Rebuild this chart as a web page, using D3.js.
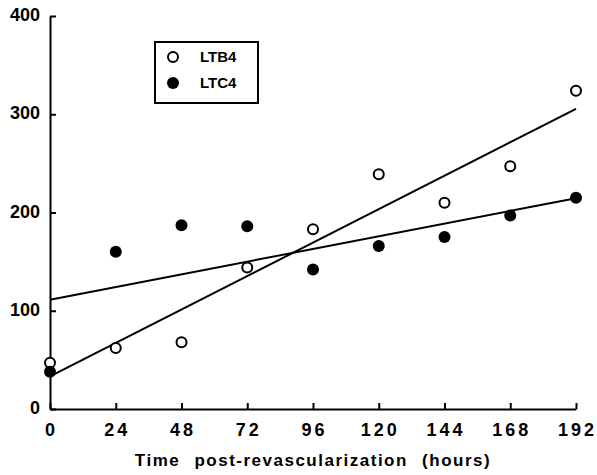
<!DOCTYPE html>
<html>
<head>
<meta charset="utf-8">
<script src="https://cdn.jsdelivr.net/npm/d3@7"></script>
<style>
  body { margin: 0; background: #fff; }
  svg { display: block; font-family: "Liberation Sans", Arial, sans-serif; font-weight: bold; }
  .axis path, .axis line { stroke: #000; stroke-width: 2; }
  .axis text { font-size: 18px; fill: #000; }
</style>
</head>
<body>
<svg width="597" height="475"></svg>
<script>
// hours after revascularization
var hours = [0, 24, 48, 72, 96, 120, 144, 168, 192];
var ltb4 = [47, 62, 68, 144, 183, 239, 210, 247, 324];
var ltc4 = [38, 160, 187, 186, 142, 166, 175, 197, 215];
var yTicks = [0, 100, 200, 300, 400];
var series = ["LTB4", "LTC4"];

var svg = d3.select("svg");
var margin = {left: 50, top: 16, right: 21, bottom: 66};
var width = 597 - margin.left - margin.right;
var height = 475 - margin.top - margin.bottom;
var g = svg.append("g")
    .attr("transform", "translate(" + margin.left + "," + margin.top + ")");

var x = d3.scaleLinear().domain([0, 192]).range([0, width]);
var y = d3.scaleLinear().domain([0, 400]).range([height, 0]);

var xAxis = g.append("g")
    .attr("class", "axis")
    .attr("transform", "translate(0," + height + ")")
    .call(d3.axisBottom(x).tickValues(hours).tickSize(-6).tickSizeOuter(0).tickPadding(14));
xAxis.selectAll("text").attr("letter-spacing", "3px").attr("dx", "1px");

var yAxis = g.append("g")
    .attr("class", "axis")
    .call(d3.axisLeft(y).tickValues(yTicks).tickSize(-6).tickSizeOuter(0).tickPadding(10));
yAxis.selectAll("text").attr("dy", "0.25em");

// least squares line for each series
function fit(vals) {
  var mx = d3.mean(hours), my = d3.mean(vals);
  var num = d3.sum(hours, function(h, i) { return (h - mx) * (vals[i] - my); });
  var den = d3.sum(hours, function(h) { return (h - mx) * (h - mx); });
  var b = num / den;
  return [[0, my - b * mx], [192, my + b * (192 - mx)]];
}

var line = d3.line()
    .x(function(d) { return x(d[0]); })
    .y(function(d) { return y(d[1]); });

[ltb4, ltc4].forEach(function(vals) {
  g.append("path")
      .attr("d", line(fit(vals)))
      .attr("fill", "none")
      .attr("stroke", "#000")
      .attr("stroke-width", 2);
});

g.selectAll(".ltb4")
    .data(ltb4)
    .enter().append("circle")
    .attr("class", "ltb4")
    .attr("cx", function(d, i) { return x(hours[i]); })
    .attr("cy", function(d) { return y(d); })
    .attr("r", 5)
    .attr("fill", "#fff")
    .attr("stroke", "#000")
    .attr("stroke-width", 2);

g.selectAll(".ltc4")
    .data(ltc4)
    .enter().append("circle")
    .attr("class", "ltc4")
    .attr("cx", function(d, i) { return x(hours[i]); })
    .attr("cy", function(d) { return y(d); })
    .attr("r", 6)
    .attr("fill", "#000");

// legend
var legend = svg.append("g").attr("transform", "translate(155,42)");
legend.append("rect")
    .attr("width", 103)
    .attr("height", 61)
    .attr("fill", "none")
    .attr("stroke", "#000")
    .attr("stroke-width", 2);
var item = legend.selectAll(".item")
    .data(series)
    .enter().append("g")
    .attr("transform", function(d, i) { return "translate(0," + (15 + i * 26) + ")"; });
item.append("circle")
    .attr("cx", 18)
    .attr("r", function(d, i) { return i ? 6 : 5; })
    .attr("fill", function(d, i) { return i ? "#000" : "#fff"; })
    .attr("stroke", "#000")
    .attr("stroke-width", function(d, i) { return i ? 0 : 2; });
item.append("text")
    .attr("x", 45)
    .attr("dy", "0.36em")
    .attr("font-size", "15px")
    .text(function(d) { return d; });

svg.append("text")
    .attr("x", margin.left + width / 2)
    .attr("y", 466)
    .attr("text-anchor", "middle")
    .attr("font-size", "17px")
    .attr("letter-spacing", "1.5px")
    .attr("word-spacing", "8px")
    .text("Time post-revascularization (hours)");
</script>
</body>
</html>
